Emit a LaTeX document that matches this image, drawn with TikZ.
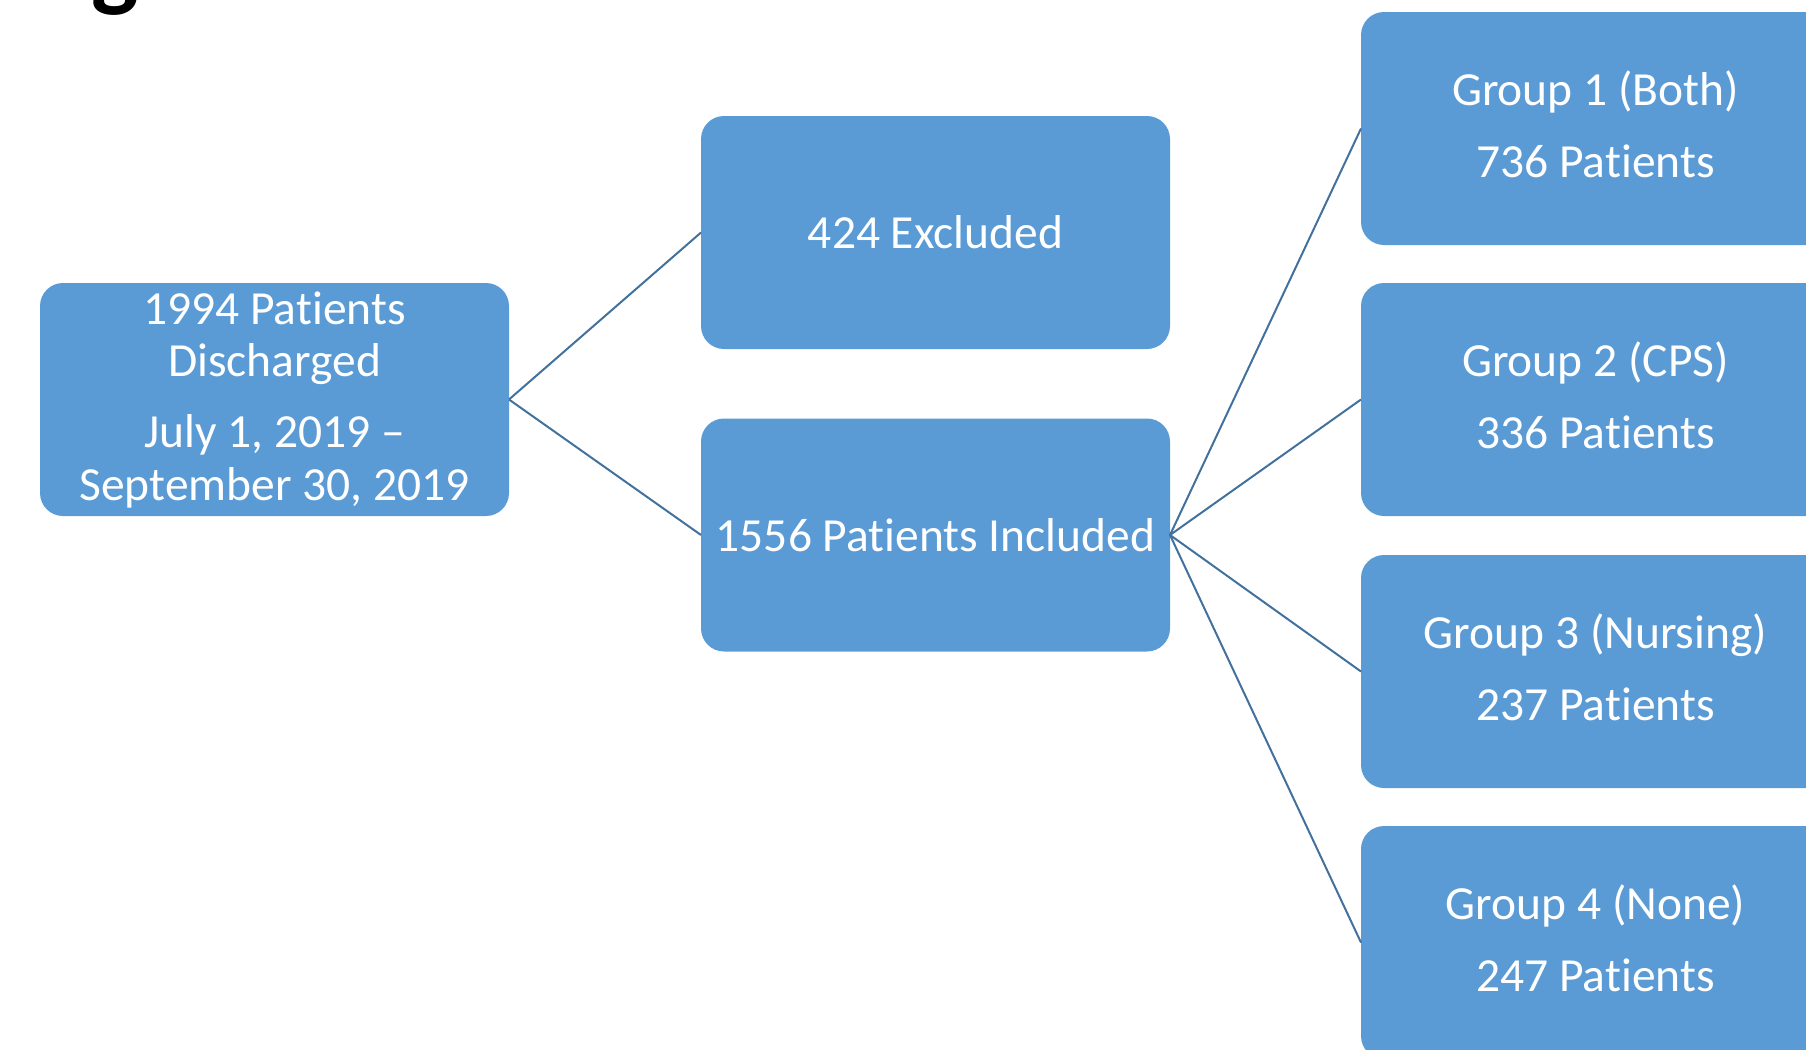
\documentclass[tikz,border=0pt]{standalone}
\usepackage{fontspec}
\setmainfont[Ligatures=NoCommon]{Carlito}
\definecolor{boxfill}{HTML}{5B9BD5}
\definecolor{linecol}{HTML}{41719C}
\begin{document}
\begin{tikzpicture}[x=0.5pt,y=-0.5pt,
  box/.style={fill=boxfill, rounded corners=11.5pt, minimum width=234.5pt, minimum height=116.5pt, inner sep=0pt, outer sep=0pt},
  txt/.style={text=white, anchor=base, inner sep=0pt, font=\fontsize{23.75}{28}\selectfont},
  conn/.style={draw=linecol, line width=1pt}]
\clip (0,0) rectangle (1806,1050);
\node (title) [anchor=base west, inner sep=0pt, font=\bfseries\fontsize{50}{52}\selectfont] at (21,-2) {Figure 1: Patient Enrollment};
% boxes
\node (src) [box] at (274.5,399.5) {};
\node (excl) [box] at (935.5,232.5) {};
\node (incl) [box] at (935.5,535) {};
\node (g1) [box] at (1595.5,128.5) {};
\node (g2) [box] at (1595.5,399.5) {};
\node (g3) [box] at (1595.5,671.5) {};
\node (g4) [box] at (1595.5,942.5) {};
% texts
\node (srcA) [txt] at (274.5,324) {1994 Patients};
\node (srcB) [txt] at (274.5,376) {Discharged};
\node (srcC) [txt] at (274.5,447) {July 1, 2019 –};
\node (srcD) [txt] at (274.5,500) {September 30, 2019};
\node (exclT) [txt] at (935.5,248) {424 Excluded};
\node (inclT) [txt] at (935.5,551) {1556 Patients Included};
\node (g1A) [txt] at (1595.5,105.5) {Group 1 (Both)};
\node (g1B) [txt] at (1595.5,177.5) {736 Patients};
\node (g2A) [txt] at (1595.5,376.5) {Group 2 (CPS)};
\node (g2B) [txt] at (1595.5,448.5) {336 Patients};
\node (g3A) [txt] at (1595.5,648.5) {Group 3 (Nursing)};
\node (g3B) [txt] at (1595.5,720.5) {237 Patients};
\node (g4A) [txt] at (1595.5,919.5) {Group 4 (None)};
\node (g4B) [txt] at (1595.5,991.5) {247 Patients};
% connectors
\draw[conn] (src.east) -- (excl.west);
\draw[conn] (src.east) -- (incl.west);
\draw[conn] (incl.east) -- (g1.west);
\draw[conn] (incl.east) -- (g2.west);
\draw[conn] (incl.east) -- (g3.west);
\draw[conn] (incl.east) -- (g4.west);
\end{tikzpicture}
\end{document}
